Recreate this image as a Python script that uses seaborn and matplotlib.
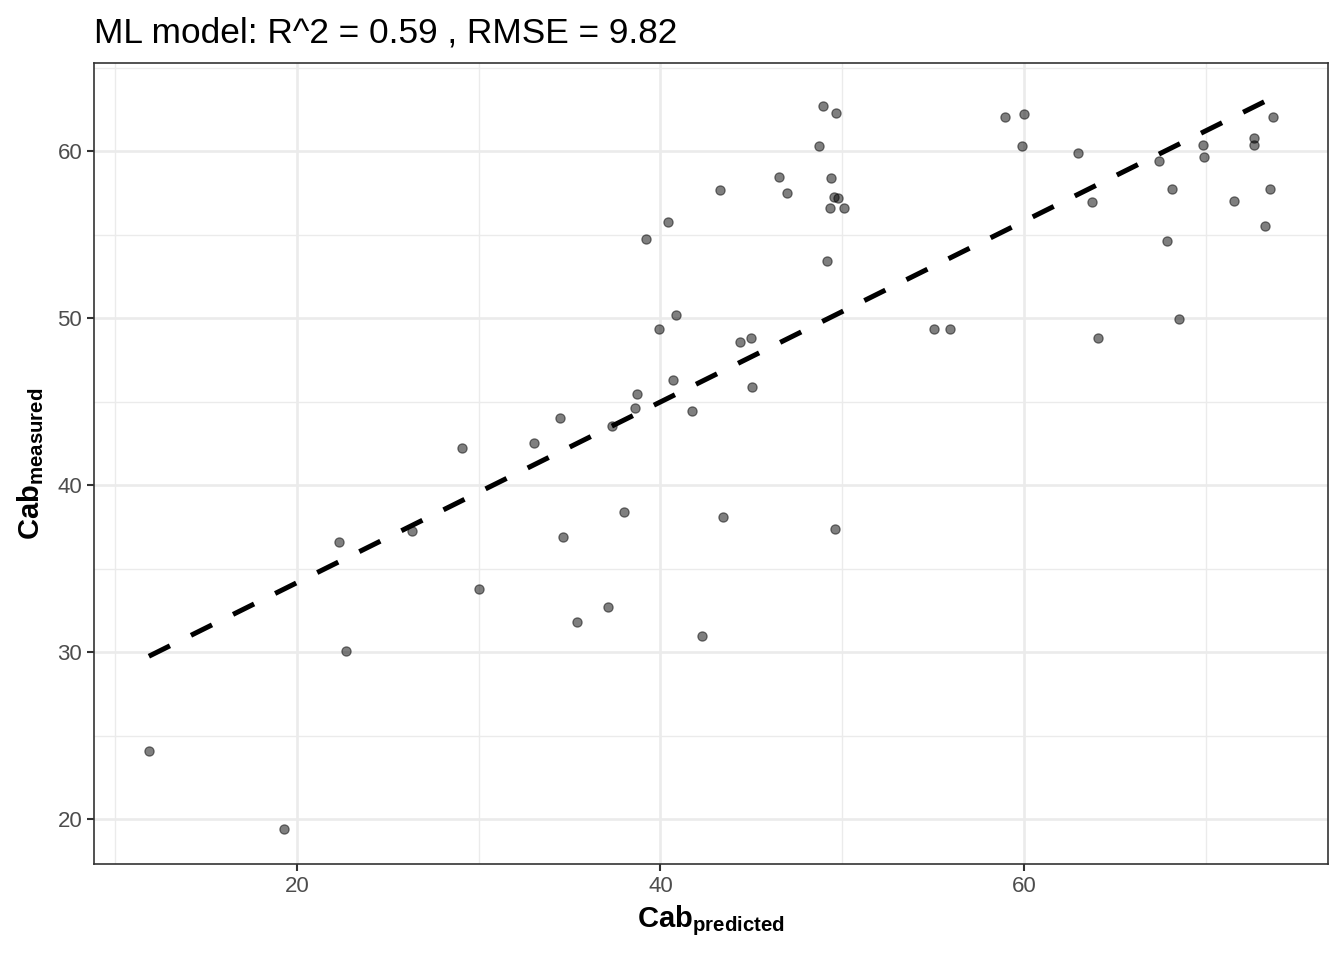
import numpy as np
import pandas as pd
import matplotlib
matplotlib.use("Agg")
import matplotlib.pyplot as plt
import seaborn as sns
from matplotlib.ticker import MultipleLocator

# ---- data ----
cab_predicted = [11.85, 19.28, 22.33, 22.70, 26.31, 29.10, 30.03, 33.03, 34.47, 34.64,
                 35.43, 37.12, 37.35, 38.01, 38.60, 38.70, 39.22, 39.92, 40.40, 40.71,
                 40.84, 41.76, 42.27, 43.26, 43.46, 44.40, 45.00, 45.02, 46.54, 46.97,
                 48.71, 48.97, 49.15, 49.32, 49.41, 49.54, 49.59, 49.66, 49.76, 50.12,
                 55.04, 55.96, 58.95, 59.92, 60.03, 63.00, 63.74, 64.07, 67.46, 67.88,
                 68.17, 68.56, 69.84, 69.92, 71.55, 72.67, 72.67, 73.27, 73.55, 73.70]
cab_measured = [24.07, 19.40, 36.60, 30.06, 37.26, 42.20, 33.77, 42.51, 44.01, 36.87,
                31.80, 32.71, 43.55, 38.36, 44.63, 45.47, 54.73, 49.32, 55.77, 46.27,
                50.16, 44.45, 30.96, 57.66, 38.08, 48.56, 48.82, 45.89, 58.44, 57.50,
                60.32, 62.71, 53.40, 56.57, 58.38, 57.27, 37.35, 62.26, 57.20, 56.57,
                49.34, 49.34, 62.05, 60.28, 62.23, 59.90, 56.93, 48.78, 59.40, 54.63,
                57.72, 49.94, 60.38, 59.64, 57.02, 60.78, 60.36, 55.51, 57.72, 62.05]
x_ticks = [20, 40, 60]
y_ticks = [20, 30, 40, 50, 60]
title_text = "ML model: R^2 = 0.59 , RMSE = 9.82"

df = pd.DataFrame({"pred": cab_predicted, "meas": cab_measured})

sns.set_style("white")
plt.rcParams["font.family"] = ["Liberation Sans", "DejaVu Sans"]
plt.rcParams["mathtext.fontset"] = "custom"
plt.rcParams["mathtext.rm"] = "Liberation Sans"
plt.rcParams["mathtext.bf"] = "Liberation Sans:bold"
plt.rcParams["mathtext.it"] = "Liberation Sans:italic"

fig = plt.figure(figsize=(13.44, 9.6), dpi=100)
ax = fig.add_axes([94/1344, 1 - 864/960, (1328-94)/1344, (864-63)/960])

sns.scatterplot(data=df, x="pred", y="meas", ax=ax, color="black", alpha=0.5,
                s=44, edgecolor="black", linewidth=0.9, zorder=3)
sns.regplot(data=df, x="pred", y="meas", ax=ax, scatter=False, ci=None,
            line_kws=dict(color="black", lw=3.6, ls=(0, (4.7, 4.7)), zorder=4))

ax.set_xlim(8.83, 76.74)
ax.set_ylim(17.31, 65.27)
ax.set_xticks(x_ticks)
ax.set_yticks(y_ticks)
ax.xaxis.set_minor_locator(MultipleLocator(10))
ax.yaxis.set_minor_locator(MultipleLocator(5))

ax.grid(True, which="major", color="#EBEBEB", lw=1.9, zorder=0)
ax.grid(True, which="minor", color="#EBEBEB", lw=1.0, zorder=0)
ax.set_axisbelow(True)

for sp in ax.spines.values():
    sp.set_color("#333333")
    sp.set_linewidth(1.2)
    sp.set_visible(True)

ax.tick_params(which="major", direction="out", length=5, width=1.5, color="#333333",
               labelsize=16, labelcolor="#4D4D4D", pad=3.5, bottom=True, left=True)
ax.tick_params(which="minor", length=0)

ax.set_xlabel(r"$\mathbf{Cab}_{\mathbf{predicted}}$", fontsize=21, labelpad=5, color="black")
ax.set_ylabel(r"$\mathbf{Cab}_{\mathbf{measured}}$", fontsize=21, labelpad=8, color="black")
ax.set_title(title_text, loc="left", fontsize=25.4, pad=15, color="black")

fig.savefig("out.png", dpi=100)
